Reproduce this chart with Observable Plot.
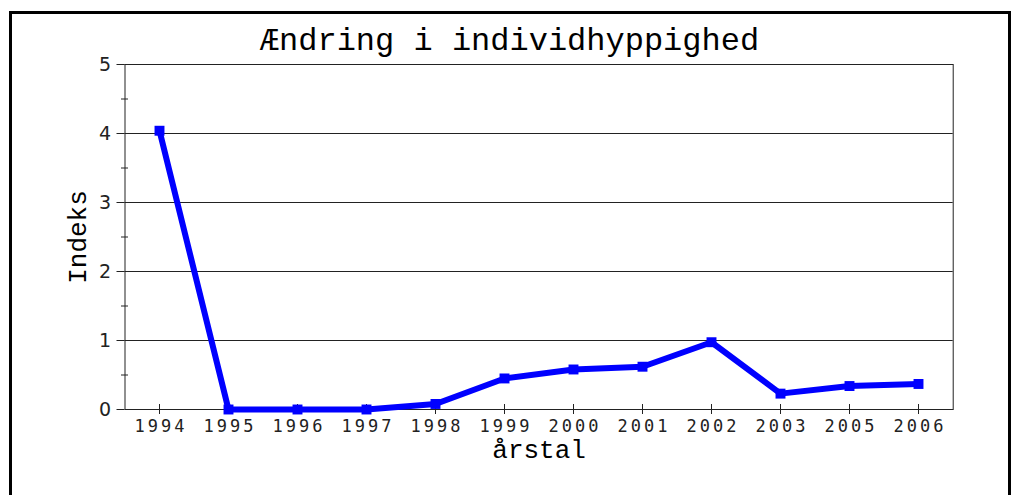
<!DOCTYPE html>
<html>
<head>
<meta charset="utf-8">
<script src="https://cdn.jsdelivr.net/npm/d3@7"></script>
<script src="https://cdn.jsdelivr.net/npm/@observablehq/plot@0.6"></script>
<style>
  html, body { margin: 0; padding: 0; background: #fff; overflow: hidden; }
  #wrap { position: relative; width: 1013px; height: 495px; }
  #border { position: absolute; left: 9px; top: 11px; width: 996px; height: 600px; border: 3px solid #000; pointer-events: none; }
  g[aria-label="y-axis tick label"] { font-size: 19px; font-family: 'DejaVu Sans', sans-serif; }
  g[aria-label="x-axis tick label"] { font-size: 17px; font-family: 'DejaVu Sans Mono', monospace; letter-spacing: 3px; }
</style>
</head>
<body>
<div id="wrap"><div id="chart"></div><div id="border"></div></div>
<script>
const years = ["1994","1995","1996","1997","1998","1999","2000","2001","2002","2003","2005","2006"];
const indeks = [4.04, 0.0, 0.0, 0.0, 0.08, 0.45, 0.58, 0.62, 0.975, 0.23, 0.34, 0.37];
const yMajor = [0, 1, 2, 3, 4, 5];
const yMinor = [0.5, 1.5, 2.5, 3.5, 4.5];
const gridValues = [1, 2, 3, 4, 5];
const titleText = "Ændring i individhyppighed";
const xLabel = "årstal";
const yLabel = "Indeks";

const data = years.map((y, i) => ({year: y, value: indeks[i]}));
const mono = "'Liberation Mono', 'Courier New', monospace";

const chart = Plot.plot({
  width: 1013,
  height: 495,
  marginLeft: 124.5,
  marginRight: 60.3,
  marginTop: 64,
  marginBottom: 86,
  style: {background: "#fff", overflow: "visible"},
  x: {type: "point", domain: years, padding: 0.5, axis: null},
  y: {domain: [0, 5], axis: null},
  marks: [
    Plot.ruleY(gridValues, {stroke: "#222", strokeWidth: 1}),
    Plot.frame({stroke: "#222"}),
    Plot.axisY({ticks: yMajor, tickSize: 8, tickPadding: 6, tickFormat: d => String(d), label: null, stroke: "#222", fill: "#222"}),
    Plot.axisY({ticks: yMinor, tickSize: 7, dx: 3.5, tickFormat: () => "", label: null, stroke: "#222"}),
    Plot.axisX({tickSize: 10, dy: -5, tickFormat: () => "", label: null, stroke: "#222"}),
    Plot.axisX({tickSize: 0, tickPadding: 10, label: null, fill: "#222", dx: 1.5}),
    Plot.line(data, {x: "year", y: "value", stroke: "#0000ff", strokeWidth: 6}),
    Plot.dot(data, {x: "year", y: "value", symbol: "square", r: 5.6, fill: "#0000ff"}),
    Plot.text([titleText], {text: d => d, frameAnchor: "top", dx: -29.6, dy: -15, lineAnchor: "bottom", fontSize: 32, fontFamily: mono, fill: "#000"}),
    Plot.text([xLabel], {text: d => d, frameAnchor: "bottom", dy: 48, lineAnchor: "bottom", fontSize: 26, fontFamily: mono, fill: "#000"}),
    Plot.text([yLabel], {text: d => d, frameAnchor: "left", textAnchor: "middle", dx: -39.5, rotate: -90, lineAnchor: "bottom", fontSize: 26, fontFamily: mono, fill: "#000"})
  ]
});
document.getElementById("chart").appendChild(chart);
</script>
</body>
</html>
